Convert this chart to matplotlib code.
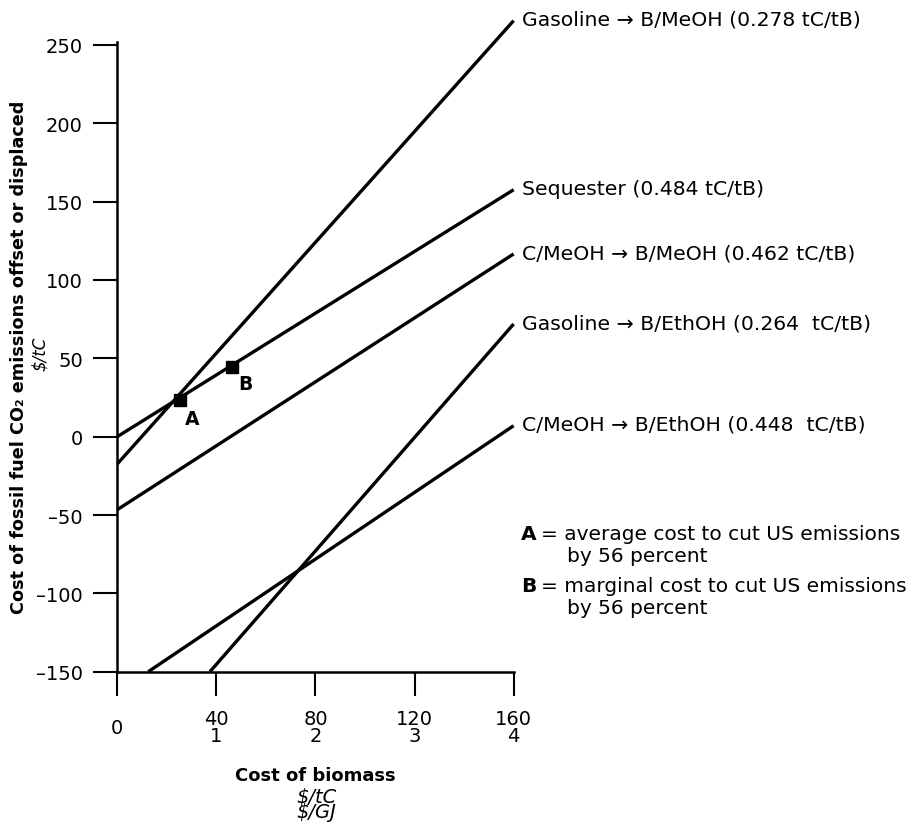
import matplotlib
matplotlib.use("Agg")
import matplotlib.pyplot as plt

plt.rcParams['font.family'] = ['DejaVu Sans']

# ---- data ----
route_labels = [
    "Gasoline \u2192 B/MeOH (0.278 tC/tB)",
    "Sequester (0.484 tC/tB)",
    "C/MeOH \u2192 B/MeOH (0.462 tC/tB)",
    "Gasoline \u2192 B/EthOH (0.264  tC/tB)",
    "C/MeOH \u2192 B/EthOH (0.448  tC/tB)",
]
x_start = [0, 0, 0, 37.4, 12.5]
y_start = [-17.4, 0, -46.6, -150, -150]
x_end = [160, 160, 160, 160, 160]
y_end = [265.5, 157.6, 116.6, 71.9, 7.0]

point_names = ["A", "B"]
point_x = [25.3, 46.3]
point_y = [23.6, 44.5]

x_ticks = [0, 40, 80, 120, 160]
gj_labels = ["", "1", "2", "3", "4"]
y_ticks = [-150, -100, -50, 0, 50, 100, 150, 200, 250]

W, H = 908, 829
fig = plt.figure(figsize=(W / 100, H / 100), dpi=100)
ax = fig.add_axes([0.10191, 0.16019, 0.47740, 0.79385])
ax.set_xlim(-10, 165)
ax.set_ylim(-165, 255)

# axes look
for s in ["top", "right"]:
    ax.spines[s].set_visible(False)
ax.spines["left"].set_position(("data", 0))
ax.spines["left"].set_bounds(-150, 252)
ax.spines["bottom"].set_position(("data", -150))
ax.spines["bottom"].set_bounds(0, 160)
for s in ["left", "bottom"]:
    ax.spines[s].set_linewidth(1.8)

ax.set_yticks(y_ticks)
ax.set_yticklabels([str(v).replace("-", "\u2013") for v in y_ticks])
ax.tick_params(axis="y", length=17.5, width=1.5, pad=7.2, labelsize=14)
ax.set_xticks(x_ticks)
ax.tick_params(axis="x", length=17.3, width=1.5, labelbottom=False)

# x tick labels ($/tC on top, $/GJ below)
for v, g in zip(x_ticks, gj_labels):
    if g == "":
        ax.annotate(str(v), xy=(v, -150), xytext=(0, -40.3), textcoords="offset points",
                    ha="center", va="center", fontsize=14, annotation_clip=False)
    else:
        ax.annotate(str(v) + "\n" + g, xy=(v, -150), xytext=(0, -39.8), textcoords="offset points",
                    ha="center", va="center", fontsize=14, linespacing=0.82,
                    annotation_clip=False)

# lines
for i in range(len(route_labels)):
    ax.plot([x_start[i], x_end[i]], [y_start[i], y_end[i]], color="black", lw=2.4,
            solid_capstyle="butt", clip_on=False)
    ax.annotate(route_labels[i], xy=(x_end[i], y_end[i]), xytext=(5.8, -3),
                textcoords="offset points", ha="left", va="baseline", fontsize=14.7,
                annotation_clip=False)

# points A and B
ax.plot(point_x, point_y, "s", color="black", ms=8, zorder=3, clip_on=False)
offsets = [(8.6, -13.7), (9.6, -12)]
for n, px, py, off in zip(point_names, point_x, point_y, offsets):
    ax.annotate(n, xy=(px, py), xytext=off, textcoords="offset points",
                ha="center", va="center", fontsize=13.5, fontweight="bold")

# axis titles
fig.text(19 / W, 1 - 357.4 / H, "Cost of fossil fuel CO\u2082 emissions offset or displaced",
         rotation=90, ha="center", va="center", fontsize=12.7, fontweight="bold")
fig.text(40 / W, 1 - 353.5 / H, r"\$/tC", rotation=90, ha="center", va="center",
         fontsize=12, style="italic")
fig.text(315 / W, 1 - 776.5 / H, "Cost of biomass", ha="center", va="center",
         fontsize=13, fontweight="bold")
fig.text(316 / W, 1 - 805 / H, "\\$/tC\n\\$/GJ", ha="center", va="center", fontsize=14,
         style="italic", linespacing=0.68)

# key for A / B
fig.text(521 / W, 1 - 540 / H, "A", ha="left", va="baseline", fontsize=14.5, fontweight="bold")
fig.text(541 / W, 1 - 540 / H, "= average cost to cut US emissions", ha="left",
         va="baseline", fontsize=14.5)
fig.text(567 / W, 1 - 562 / H, "by 56 percent", ha="left", va="baseline", fontsize=14.5)
fig.text(521 / W, 1 - 592 / H, "B", ha="left", va="baseline", fontsize=14.5, fontweight="bold")
fig.text(541 / W, 1 - 592 / H, "= marginal cost to cut US emissions", ha="left",
         va="baseline", fontsize=14.5)
fig.text(567 / W, 1 - 614 / H, "by 56 percent", ha="left", va="baseline", fontsize=14.5)

fig.savefig("out.png", dpi=100)
